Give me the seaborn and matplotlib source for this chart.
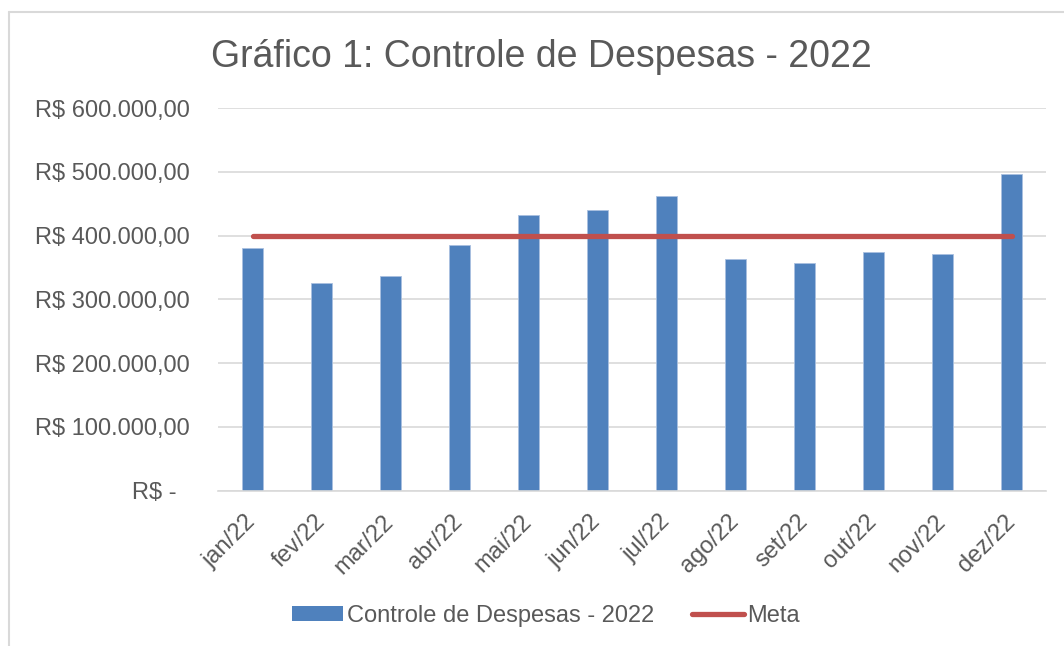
import numpy as np
import pandas as pd
import seaborn as sns
import matplotlib.pyplot as plt
from matplotlib.ticker import FuncFormatter
from matplotlib.lines import Line2D
from matplotlib.patches import Patch

# Dados
meses = ['jan/22', 'fev/22', 'mar/22', 'abr/22', 'mai/22', 'jun/22',
         'jul/22', 'ago/22', 'set/22', 'out/22', 'nov/22', 'dez/22']
despesas = [381000, 326000, 337000, 385000, 433000, 440000,
            462500, 362500, 357500, 374000, 371500, 496500]
meta = [400000] * 12
yticks = [0, 100000, 200000, 300000, 400000, 500000, 600000]

azul = '#4F81BD'
vermelho = '#C0504D'
cinza = '#595959'

sns.set_style('white')
plt.rcParams['font.family'] = ['Liberation Sans', 'DejaVu Sans']

df = pd.DataFrame({'mes': meses, 'despesas': despesas, 'meta': meta})
df['pos'] = np.arange(len(df))

fig = plt.figure(figsize=(10.64, 6.46), dpi=100)
ax = fig.add_axes([0.2049, 0.2404, 0.7782, 0.5924])

sns.barplot(data=df, x='mes', y='despesas', color=azul, width=0.31,
            saturation=1, edgecolor='#A9C0E0', linewidth=0.6, ax=ax)
sns.lineplot(data=df, x='pos', y='meta', color=vermelho, linewidth=3.8,
             solid_capstyle='round', ax=ax, legend=False)

ax.set_xlim(-0.5, 11.5)
ax.set_ylim(0, 600000)
ax.set_yticks(yticks)


def brl(v, pos):
    if v == 0:
        return 'R$ -  '
    s = f'{v:,.2f}'.replace(',', 'X').replace('.', ',').replace('X', '.')
    return 'R$ ' + s


ax.yaxis.set_major_formatter(FuncFormatter(brl))
ax.set_xticks(range(len(meses)))
ax.set_xticklabels(meses)
ax.set_xlabel('')
ax.set_ylabel('')

ax.grid(axis='y', color='#D9D9D9', linewidth=1.2)
ax.set_axisbelow(True)
for s in ['top', 'right', 'left']:
    ax.spines[s].set_visible(False)
ax.spines['bottom'].set_color('#D9D9D9')
ax.spines['bottom'].set_linewidth(1.2)

ax.tick_params(axis='y', length=0, pad=20, labelsize=17, labelcolor=cinza)
ax.tick_params(axis='x', length=0, pad=20, labelsize=17, labelcolor=cinza)
for lab in ax.get_xticklabels():
    lab.set_rotation(45)
    lab.set_rotation_mode('anchor')
    lab.set_ha('right')
    lab.set_va('center')

fig.text(0.509, 0.912, 'Gráfico 1: Controle de Despesas - 2022',
         ha='center', va='center', fontsize=27, color=cinza)

handles = [Patch(facecolor=azul, edgecolor='none'),
           Line2D([0], [0], color=vermelho, linewidth=3.8,
                  solid_capstyle='round')]
labels = ['Controle de Despesas - 2022', 'Meta']
leg = fig.legend(handles, labels, loc='center', bbox_to_anchor=(0.513, 0.047),
                 ncol=2, frameon=False, fontsize=17, handlelength=2.2,
                 handleheight=0.6, handletextpad=0.15, columnspacing=1.6)
for t in leg.get_texts():
    t.set_color(cinza)

# moldura do grafico
fig.add_artist(Line2D([9 / 1064, 9 / 1064], [0, 1 - 12 / 646],
                      transform=fig.transFigure, color='#D9D9D9', linewidth=1.5))
fig.add_artist(Line2D([9 / 1064, 1], [1 - 12 / 646, 1 - 12 / 646],
                      transform=fig.transFigure, color='#D9D9D9', linewidth=1.5))

fig.savefig('out.png', dpi=100)
